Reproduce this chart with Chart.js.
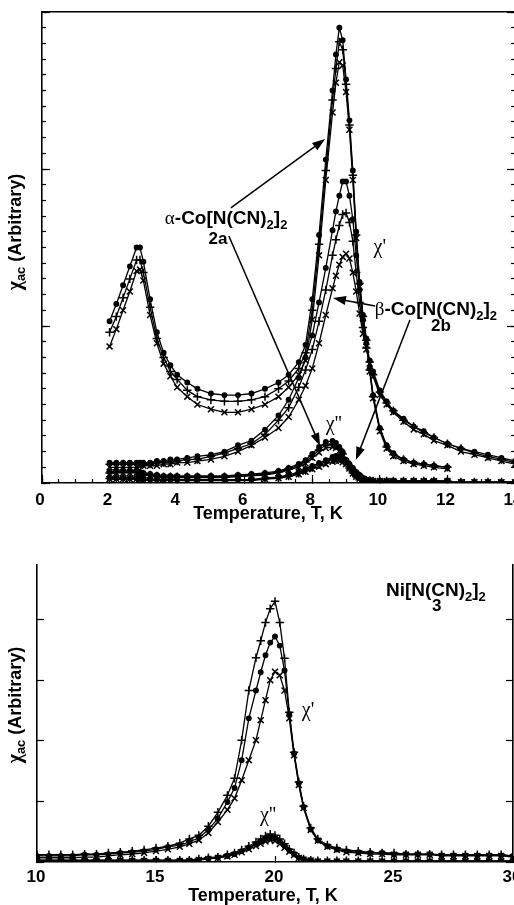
<!DOCTYPE html>
<html>
<head>
<meta charset="utf-8">
<title>AC susceptibility of M[N(CN)2]2</title>
<script src="https://cdn.jsdelivr.net/npm/chart.js"></script>
<style>
  html, body { margin: 0; padding: 0; background: #fff; }
  body { width: 514px; height: 905px; overflow: hidden; position: relative; }
  canvas { position: absolute; left: 0; }
  #coChart { top: 0; }
  #niChart { top: 527px; }
</style>
</head>
<body>
<canvas id="coChart" width="540" height="527"></canvas>
<canvas id="niChart" width="540" height="378"></canvas>
<script>
// Temperatures (K) for the Co samples; alpha runs stop at 12 K, beta runs go on to 14 K
const coTemps = [2.0, 2.2, 2.4, 2.6, 2.8, 2.9, 3.0, 3.2, 3.4, 3.6, 3.8, 4.0, 4.3, 4.6, 5.0, 5.4, 5.8, 6.2, 6.6, 7.0,
  7.3, 7.6, 7.8, 8.0, 8.2, 8.4, 8.6, 8.7, 8.8, 8.9, 9.0, 9.1, 9.2, 9.3, 9.4, 9.5, 9.6, 9.7, 9.8, 10.0,
  10.2, 10.4, 10.7, 11.0, 11.3, 11.6, 12.0, 12.4, 12.8, 13.2, 13.6, 14.0];

// alpha-Co[N(CN)2]2 (2a), chi' at three frequencies
const alphaChi1 = [10.3, 11.4, 12.6, 13.8, 15.0, 15.0, 14.1, 11.7, 9.6, 8.3, 7.5, 6.9, 6.4, 6.0, 5.7, 5.6, 5.6, 5.7, 6.0, 6.4,
  6.9, 7.7, 8.8, 11.7, 15.8, 20.6, 25.0, 27.3, 29.0, 28.2, 25.7, 23.1, 19.9, 16.0, 12.8, 10.7, 9.2, 7.3, 5.6, 3.5,
  2.4, 1.9, 1.5, 1.3, 1.2, 1.1, 1.0];
const alphaChi2 = [9.6, 10.6, 11.8, 13.0, 14.2, 14.2, 13.4, 11.2, 9.2, 8.0, 7.1, 6.6, 5.9, 5.5, 5.3, 5.2, 5.2, 5.3, 5.5, 6.0,
  6.5, 7.3, 8.3, 11.0, 15.2, 19.9, 24.4, 26.4, 28.1, 27.6, 25.4, 22.8, 19.6, 15.8, 12.7, 10.6, 9.1, 7.2, 5.5, 3.4,
  2.3, 1.8, 1.5, 1.3, 1.2, 1.1, 1.0];
const alphaChi3 = [8.7, 9.8, 11.0, 12.2, 13.5, 13.6, 12.9, 10.7, 8.9, 7.6, 6.8, 6.1, 5.5, 5.0, 4.7, 4.5, 4.5, 4.7, 5.0, 5.5,
  6.1, 6.9, 7.8, 10.4, 14.5, 19.3, 23.6, 25.5, 26.8, 26.6, 24.9, 22.5, 19.3, 15.6, 12.5, 10.5, 9.0, 7.1, 5.4, 3.3,
  2.2, 1.7, 1.4, 1.2, 1.1, 1.0, 0.9];

// beta-Co[N(CN)2]2 (2b), chi'
const betaChi1 = [1.3, 1.3, 1.3, 1.3, 1.3, 1.3, 1.3, 1.3, 1.4, 1.4, 1.5, 1.5, 1.6, 1.7, 1.8, 2.0, 2.4, 2.7, 3.4, 4.3,
  5.3, 6.7, 8.0, 9.4, 11.5, 13.7, 16.1, 17.3, 18.3, 19.2, 19.2, 18.3, 16.8, 14.5, 12.3, 10.4, 8.9, 7.8, 7.1, 5.9,
  5.2, 4.6, 4.1, 3.6, 3.3, 2.9, 2.5, 2.2, 2.0, 1.8, 1.6, 1.4];
const betaChi2 = [1.2, 1.2, 1.2, 1.2, 1.2, 1.2, 1.2, 1.2, 1.3, 1.3, 1.3, 1.4, 1.5, 1.5, 1.7, 1.9, 2.2, 2.5, 3.1, 4.0,
  4.8, 6.1, 7.2, 8.5, 10.3, 12.3, 14.5, 15.5, 16.4, 17.1, 17.2, 16.6, 15.4, 13.4, 11.5, 9.9, 8.6, 7.7, 6.9, 5.8,
  5.1, 4.6, 4.0, 3.6, 3.2, 2.9, 2.5, 2.2, 1.9, 1.7, 1.5, 1.3];
const betaChi3 = [1.0, 1.0, 1.0, 1.0, 1.0, 1.1, 1.1, 1.1, 1.1, 1.2, 1.2, 1.3, 1.3, 1.4, 1.5, 1.7, 2.0, 2.4, 2.9, 3.5,
  4.2, 5.3, 6.2, 7.3, 8.9, 10.7, 12.4, 13.2, 13.9, 14.4, 14.6, 14.3, 13.4, 12.2, 10.8, 9.5, 8.5, 7.6, 6.8, 5.6,
  5.0, 4.5, 3.9, 3.4, 3.1, 2.7, 2.4, 2.0, 1.8, 1.6, 1.4, 1.2];

// chi'' for both Co phases
const alphaChiPP1 = [0.70, 0.76, 0.76, 0.76, 0.76, 0.70, 0.64, 0.57, 0.51, 0.45, 0.45, 0.45, 0.45, 0.45, 0.45, 0.45, 0.51, 0.57, 0.64, 0.76,
  0.96, 1.21, 1.46, 1.85, 2.29, 2.61, 2.68, 2.55, 2.29, 1.97, 1.46, 1.02, 0.70, 0.45, 0.32, 0.25, 0.19, 0.19, 0.13, 0.13,
  0.13, 0.13, 0.13, 0.13, 0.13, 0.13, 0.13];
const alphaChiPP2 = [0.64, 0.70, 0.70, 0.70, 0.70, 0.64, 0.57, 0.51, 0.45, 0.40, 0.40, 0.40, 0.40, 0.40, 0.40, 0.40, 0.45, 0.51, 0.57, 0.70,
  0.89, 1.12, 1.34, 1.72, 2.10, 2.42, 2.48, 2.40, 2.17, 1.85, 1.40, 0.96, 0.64, 0.42, 0.30, 0.23, 0.18, 0.16, 0.13, 0.13,
  0.13, 0.13, 0.13, 0.13, 0.13, 0.13, 0.13];
const alphaChiPP3 = [0.57, 0.64, 0.64, 0.64, 0.64, 0.57, 0.51, 0.45, 0.40, 0.35, 0.35, 0.35, 0.35, 0.35, 0.35, 0.35, 0.40, 0.45, 0.51, 0.64,
  0.82, 1.02, 1.24, 1.59, 1.94, 2.23, 2.30, 2.23, 2.04, 1.75, 1.34, 0.92, 0.60, 0.40, 0.28, 0.22, 0.17, 0.15, 0.12, 0.12,
  0.12, 0.12, 0.12, 0.12, 0.12, 0.12, 0.12];
const betaChiPP1 = [0.32, 0.32, 0.32, 0.32, 0.32, 0.32, 0.25, 0.22, 0.22, 0.22, 0.22, 0.22, 0.22, 0.22, 0.22, 0.22, 0.22, 0.22, 0.32, 0.38,
  0.51, 0.70, 0.89, 1.08, 1.27, 1.46, 1.66, 1.72, 1.72, 1.59, 1.46, 1.21, 0.96, 0.70, 0.51, 0.32, 0.19, 0.13, 0.06, 0.06,
  0.06, 0.06, 0.06, 0.06, 0.06, 0.06, 0.06, 0.06, 0.06, 0.06, 0.06, 0.06];
const betaChiPP2 = [0.28, 0.28, 0.28, 0.28, 0.28, 0.28, 0.22, 0.19, 0.19, 0.19, 0.19, 0.19, 0.19, 0.19, 0.19, 0.19, 0.19, 0.19, 0.28, 0.34,
  0.45, 0.62, 0.80, 0.98, 1.16, 1.34, 1.50, 1.56, 1.56, 1.46, 1.32, 1.10, 0.86, 0.62, 0.45, 0.28, 0.16, 0.11, 0.06, 0.06,
  0.06, 0.06, 0.06, 0.06, 0.06, 0.06, 0.06, 0.06, 0.06, 0.06, 0.06, 0.06];
const betaChiPP3 = [0.25, 0.25, 0.25, 0.25, 0.25, 0.25, 0.19, 0.16, 0.16, 0.16, 0.16, 0.16, 0.16, 0.16, 0.16, 0.16, 0.16, 0.16, 0.25, 0.30,
  0.40, 0.55, 0.72, 0.88, 1.04, 1.20, 1.36, 1.41, 1.41, 1.32, 1.20, 1.00, 0.78, 0.56, 0.40, 0.25, 0.14, 0.10, 0.05, 0.05,
  0.05, 0.05, 0.05, 0.05, 0.05, 0.05, 0.05, 0.05, 0.05, 0.05, 0.05, 0.05];

// Ni[N(CN)2]2 (3)
const niTemps = [10, 10.5, 11, 11.5, 12, 12.5, 13, 13.5, 14, 14.5, 15, 15.5, 16, 16.4, 16.8, 17.2, 17.6, 18.0, 18.3, 18.6,
  18.9, 19.2, 19.4, 19.6, 19.8, 20.0, 20.2, 20.4, 20.6, 20.8, 21.0, 21.2, 21.5, 21.8, 22.2, 22.6, 23, 23.5, 24, 24.5,
  25, 25.5, 26, 26.5, 27, 27.5, 28, 28.5, 29, 29.5, 30];
const niChi1 = [1.2, 1.2, 1.2, 1.2, 1.3, 1.3, 1.5, 1.6, 1.8, 2.0, 2.3, 2.6, 3.1, 3.8, 4.4, 5.9, 8.2, 11.0, 13.8, 20.1,
  28.3, 33.7, 36.5, 39.5, 41.8, 43.0, 39.5, 33.6, 24.7, 18.1, 13.2, 9.2, 5.6, 3.8, 2.8, 2.3, 2.0, 1.8, 1.6, 1.5,
  1.5, 1.3, 1.3, 1.3, 1.2, 1.2, 1.2, 1.2, 1.2, 1.2, 1.0];
const niChi2 = [1.0, 1.0, 1.0, 1.0, 1.2, 1.2, 1.3, 1.5, 1.6, 1.8, 2.1, 2.5, 2.8, 3.3, 4.0, 5.3, 7.2, 9.9, 12.2, 16.8,
  23.7, 28.3, 31.3, 34.1, 36.2, 37.2, 35.7, 31.6, 24.4, 17.9, 13.0, 9.1, 5.4, 3.6, 2.6, 2.1, 1.8, 1.6, 1.5, 1.5,
  1.3, 1.3, 1.3, 1.3, 1.1, 1.1, 1.1, 1.1, 1.1, 1.1, 1.0];
const niChi3 = [0.7, 0.7, 0.7, 0.7, 0.8, 0.8, 1.0, 1.2, 1.3, 1.5, 1.8, 2.1, 2.5, 3.0, 3.6, 4.8, 6.6, 8.6, 10.5, 13.5,
  16.8, 20.1, 23.4, 26.7, 30.0, 31.4, 30.8, 28.3, 23.7, 17.6, 12.7, 8.9, 5.3, 3.5, 2.5, 2.0, 1.6, 1.5, 1.3, 1.3,
  1.2, 1.2, 1.2, 1.2, 1.0, 1.0, 1.0, 1.0, 1.0, 1.0, 0.8];
const niChiPP1 = [0.3, 0.3, 0.3, 0.3, 0.3, 0.3, 0.3, 0.3, 0.3, 0.3, 0.3, 0.3, 0.3, 0.3, 0.5, 0.7, 0.8, 1.2, 1.5, 2.0,
  2.6, 3.3, 3.8, 4.3, 4.6, 4.4, 3.8, 3.0, 2.1, 1.5, 0.8, 0.5, 0.3, 0.2, 0.2, 0.2, 0.2, 0.2, 0.2, 0.2,
  0.2, 0.2, 0.2, 0.2, 0.2, 0.2, 0.2, 0.2, 0.2, 0.2, 0.2];
const niChiPP2 = [0.25, 0.25, 0.25, 0.25, 0.25, 0.25, 0.25, 0.25, 0.25, 0.25, 0.25, 0.25, 0.25, 0.25, 0.40, 0.58, 0.74, 1.04, 1.34, 1.80,
  2.38, 2.96, 3.42, 3.85, 4.12, 3.98, 3.40, 2.66, 1.92, 1.32, 0.74, 0.45, 0.30, 0.12, 0.12, 0.12, 0.12, 0.12, 0.12, 0.12,
  0.12, 0.12, 0.12, 0.12, 0.12, 0.12, 0.12, 0.12, 0.12, 0.12, 0.12];
const niChiPP3 = [0.18, 0.18, 0.18, 0.18, 0.18, 0.18, 0.18, 0.18, 0.18, 0.18, 0.18, 0.18, 0.18, 0.18, 0.33, 0.50, 0.66, 0.92, 1.20, 1.60,
  2.10, 2.62, 3.02, 3.38, 3.60, 3.48, 2.98, 2.34, 1.70, 1.16, 0.66, 0.40, 0.26, 0.08, 0.08, 0.08, 0.08, 0.08, 0.08, 0.08,
  0.08, 0.08, 0.08, 0.08, 0.08, 0.08, 0.08, 0.08, 0.08, 0.08, 0.08];

const SANS = '"Liberation Sans", Arial, sans-serif';
const SERIF = '"Liberation Serif", "Times New Roman", serif';
const f = (size, bold, family) => (bold ? 'bold ' : '') + size + 'px ' + family;

const markers = [
  { pointStyle: 'circle', pointRadius: 2.2 },
  { pointStyle: 'cross', pointRadius: 4.2 },
  { pointStyle: 'crossRot', pointRadius: 4.2 }
];

function series(temps, values, m) {
  return {
    data: values.map((v, i) => ({ x: temps[i], y: v })),
    borderColor: '#000',
    borderWidth: 1.3,
    tension: 0,
    fill: false,
    pointStyle: markers[m].pointStyle,
    pointRadius: markers[m].pointRadius,
    pointBorderColor: '#000',
    pointBackgroundColor: '#000',
    pointBorderWidth: 1.5,
    xAxisID: 'x',
    yAxisID: 'y'
  };
}

// axis with inward tick marks (negative tickLength), fixed box size
function edgeAxis(o) {
  const horizontal = o.position === 'top' || o.position === 'bottom';
  return {
    type: 'linear',
    position: o.position,
    min: o.min,
    max: o.max,
    weight: o.weight || 0,
    ticks: Object.assign({ stepSize: o.step, display: false, includeBounds: false, autoSkip: false, maxRotation: 0 }, o.ticks || {}),
    grid: { drawOnChartArea: false, drawTicks: !!o.len, tickLength: -(o.len || 0), tickColor: '#000', tickWidth: 1.2 },
    border: { display: !!o.border, color: '#000', width: 1.6 },
    afterFit: (s) => { if (horizontal) { s.height = o.size || 0; } else { s.width = o.size || 0; } }
  };
}

const tickFont = { family: 'Liberation Sans', size: 17, weight: 'bold' };

function drawRich(ctx, x, y, parts) {
  let width = 0;
  parts.forEach(p => { ctx.font = p[1]; width += ctx.measureText(p[0]).width; });
  let cx = x - width / 2;
  parts.forEach(p => {
    ctx.font = p[1];
    ctx.fillText(p[0], cx, y + (p[2] || 0));
    cx += ctx.measureText(p[0]).width;
  });
}

function drawArrow(ctx, x1, y1, x2, y2) {
  const a = Math.atan2(y2 - y1, x2 - x1);
  const len = 13, half = 4.5;
  ctx.lineWidth = 1.5;
  ctx.beginPath();
  ctx.moveTo(x1, y1);
  ctx.lineTo(x2 - Math.cos(a) * len * 0.8, y2 - Math.sin(a) * len * 0.8);
  ctx.stroke();
  ctx.beginPath();
  ctx.moveTo(x2, y2);
  ctx.lineTo(x2 - len * Math.cos(a) + half * Math.sin(a), y2 - len * Math.sin(a) - half * Math.cos(a));
  ctx.lineTo(x2 - len * Math.cos(a) - half * Math.sin(a), y2 - len * Math.sin(a) + half * Math.cos(a));
  ctx.closePath();
  ctx.fill();
}

// compound labels, arrows and axis titles (subscripts need mixed fonts)
const notesPlugin = {
  id: 'notes',
  afterDraw(chart, args, opts) {
    const { ctx } = chart;
    const x = chart.scales.x, y = chart.scales.y;
    ctx.save();
    ctx.fillStyle = '#000';
    ctx.strokeStyle = '#000';
    ctx.textBaseline = 'alphabetic';
    (opts.arrows || []).forEach(a => drawArrow(ctx,
      x.getPixelForValue(a[0]), y.getPixelForValue(a[1]), x.getPixelForValue(a[2]), y.getPixelForValue(a[3])));
    (opts.labels || []).forEach(l => drawRich(ctx, x.getPixelForValue(l.at[0]), y.getPixelForValue(l.at[1]), l.parts));
    drawRich(ctx, opts.xTitle[0], opts.xTitle[1], [['Temperature, T, K', f(18, true, SANS)]]);
    ctx.translate(opts.yTitle[0], opts.yTitle[1]);
    ctx.rotate(-Math.PI / 2);
    drawRich(ctx, 0, 6, [['χ', f(20, true, SERIF)], ['ac', f(13, true, SANS), 4], [' (Arbitrary)', f(18, true, SANS)]]);
    ctx.restore();
  }
};

const formula = (prefix, main) => [
  [prefix, f(19, false, SERIF)], [main, f(19, true, SANS)], ['2', f(13, true, SANS), 5],
  [']', f(19, true, SANS)], ['2', f(13, true, SANS), 5]
];

const baseOptions = {
  responsive: false,
  animation: false,
  devicePixelRatio: 1,
  events: []
};

new Chart(document.getElementById('coChart'), {
  type: 'line',
  data: {
    datasets: [
      series(coTemps, alphaChi1, 0), series(coTemps, alphaChi2, 1), series(coTemps, alphaChi3, 2),
      series(coTemps, betaChi1, 0), series(coTemps, betaChi2, 1), series(coTemps, betaChi3, 2),
      series(coTemps, alphaChiPP1, 0), series(coTemps, alphaChiPP2, 1), series(coTemps, alphaChiPP3, 2),
      series(coTemps, betaChiPP1, 0), series(coTemps, betaChiPP2, 1), series(coTemps, betaChiPP3, 2)
    ]
  },
  options: Object.assign({}, baseOptions, {
    layout: { padding: { top: 12, right: 25, bottom: 0, left: 0 } },
    scales: {
      x: edgeAxis({ position: 'bottom', min: 0, max: 14, step: 2, len: 8, size: 44, weight: 1, border: true,
        ticks: { display: true, padding: 15, labelOffset: -2, font: tickFont, color: '#000' } }),
      xMinor: edgeAxis({ position: 'bottom', min: 0, max: 14, step: 0.5, len: 4 }),
      xTop: edgeAxis({ position: 'top', min: 0, max: 14, step: 2, border: true }),
      y: edgeAxis({ position: 'left', min: 0, max: 30, step: 10, len: 8, size: 42, weight: 1, border: true }),
      yMinor: edgeAxis({ position: 'left', min: 0, max: 30, step: 1, len: 4 }),
      yR: edgeAxis({ position: 'right', min: 0, max: 30, step: 10, len: 8, weight: 1, border: true }),
      yRMinor: edgeAxis({ position: 'right', min: 0, max: 30, step: 1, len: 4 })
    },
    plugins: {
      legend: { display: false },
      tooltip: { enabled: false },
      notes: {
        xTitle: [268, 519],
        yTitle: [15, 232],
        labels: [
          { at: [5.45, 16.5], parts: formula('α', '-Co[N(CN)') },
          { at: [5.21, 15.2], parts: [['2a', f(17, true, SANS)]] },
          { at: [11.66, 10.7], parts: formula('β', '-Co[N(CN)') },
          { at: [11.81, 9.68], parts: [['2b', f(17, true, SANS)]] },
          { at: [10.0, 14.65], parts: [["χ'", f(20, false, SERIF)]] },
          { at: [8.64, 3.38], parts: [["χ''", f(20, false, SERIF)]] }
        ],
        arrows: [
          [5.59, 17.52, 8.38, 21.91],
          [5.53, 15.73, 8.23, 2.36],
          [9.86, 11.27, 8.61, 11.78],
          [10.89, 10.38, 9.29, 1.46]
        ]
      }
    }
  }),
  plugins: [notesPlugin]
});

new Chart(document.getElementById('niChart'), {
  type: 'line',
  data: {
    datasets: [
      series(niTemps, niChi1, 1), series(niTemps, niChi2, 0), series(niTemps, niChi3, 2),
      series(niTemps, niChiPP1, 1), series(niTemps, niChiPP2, 0), series(niTemps, niChiPP3, 2)
    ]
  },
  options: Object.assign({}, baseOptions, {
    layout: { padding: { top: 38, right: 27, bottom: 0, left: 0 } },
    scales: {
      x: edgeAxis({ position: 'bottom', min: 10, max: 30, step: 5, len: 6, size: 43, weight: 1, border: true,
        ticks: { display: true, padding: 11, labelOffset: -1, font: tickFont, color: '#000' } }),
      y: edgeAxis({ position: 'left', min: 0, max: 49, step: 10, len: 7, size: 37, weight: 1, border: true }),
      yR: edgeAxis({ position: 'right', min: 0, max: 49, step: 10, len: 7, weight: 1, border: true })
    },
    plugins: {
      legend: { display: false },
      tooltip: { enabled: false },
      notes: {
        xTitle: [263, 374],
        yTitle: [15, 178],
        labels: [
          { at: [26.76, 43.9], parts: [['Ni[N(CN)', f(19, true, SANS)], ['2', f(13, true, SANS), 5], [']', f(19, true, SANS)], ['2', f(13, true, SANS), 5]] },
          { at: [26.8, 41.4], parts: [['3', f(17, true, SANS)]] },
          { at: [21.39, 24.1], parts: [["χ'", f(20, false, SERIF)]] },
          { at: [19.71, 6.76], parts: [["χ''", f(20, false, SERIF)]] }
        ],
        arrows: []
      }
    }
  }),
  plugins: [notesPlugin]
});
</script>
</body>
</html>
